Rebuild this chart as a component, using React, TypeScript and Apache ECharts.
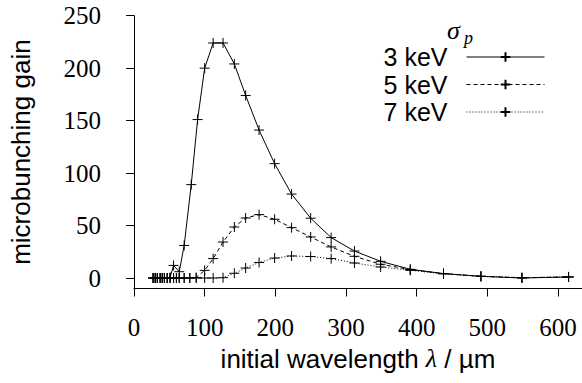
import React, { useEffect, useRef } from "react";
import * as echarts from "echarts";

// initial wavelength (µm) and microbunching gain for each energy spread
const wavelength3 = [27, 30, 33, 37, 40, 43, 47, 51, 56, 64, 71, 81, 90, 100, 112, 126, 142, 158, 177, 199, 223, 250, 279, 312, 349, 391, 438, 491, 549, 615];
const gain3 = [0, 0, 0, 0, 0, 0, 0, 0.5, 12, 6, 31, 89, 151, 200, 224, 224, 204, 174, 141, 109, 80, 57, 38.5, 25.7, 15.9, 8.3, 4.2, 1.6, 0, 1];

const wavelength5 = [27, 30, 33, 37, 40, 43, 47, 51, 56, 60, 64, 71, 79, 88, 100, 112, 126, 142, 158, 177, 199, 223, 250, 279, 312, 349, 391, 438, 491, 549, 615];
const gain5 = [0, 0, 0, 0, 0, 0, 0, 0, 0, 0, 0, 0, 0, 0.5, 7.3, 18.5, 34.3, 48.6, 57.2, 60.4, 56, 48, 39.1, 29.6, 20.7, 13.1, 8, 4.2, 1.6, 0.3, 1];

const wavelength7 = [27, 30, 33, 37, 40, 43, 47, 51, 56, 60, 64, 71, 79, 88, 100, 112, 126, 142, 158, 177, 199, 223, 250, 279, 312, 349, 391, 438, 491, 549, 615];
const gain7 = [0, 0, 0, 0, 0, 0, 0, 0, 0, 0, 0, 0, 0, 0, 0, 0, 0.3, 4.5, 9.5, 14.8, 19, 21, 20.5, 18.5, 14.3, 10.5, 7.3, 4, 1.6, 0.3, 1];

const seriesNames = ["3 keV", "5 keV", "7 keV"];
const xTicks = [0, 100, 200, 300, 400, 500, 600];
const yTicks = [0, 50, 100, 150, 200, 250];

const PLUS = "path://M0,5L10,5M5,0L5,10";
const SERIF = "Liberation Serif";
const SANS = "Liberation Sans";

export default function App() {
  const ref = useRef<HTMLDivElement>(null);
  useEffect(() => {
    if (!ref.current) return;
    const chart = echarts.init(ref.current, null, { renderer: "svg" });
    const mk = (name: string, xs: number[], ys: number[], dash: any) => ({
      name,
      type: "line",
      data: xs.map((x, i) => [x, ys[i]]),
      symbol: PLUS,
      symbolSize: 10,
      showSymbol: true,
      silent: true,
      emphasis: { disabled: true },
      lineStyle: { color: "#000", width: 1, type: dash },
      itemStyle: { color: "#000", borderColor: "#000", borderWidth: 1 },
    });
    const option: any = {
      animation: false,
      backgroundColor: "#fff",
      textStyle: { fontFamily: SERIF, color: "#000" },
      grid: { left: 130.5, right: 0, top: 15.7, bottom: 94.5, containLabel: false },
      legend: {
        data: seriesNames,
        orient: "vertical",
        align: "right",
        right: 37,
        top: 43.5,
        padding: 0,
        itemGap: 0.5,
        itemWidth: 78,
        itemHeight: 12,
        selectedMode: false,
        lineStyle: { width: 1 },
        textStyle: {
          fontFamily: SANS,
          fontSize: 25,
          color: "#000",
          lineHeight: 27,
          padding: [0, 14, 0, 0],
        },
      },
      xAxis: {
        type: "value",
        min: 0,
        max: 634,
        axisLine: { show: true, onZero: false, lineStyle: { color: "#000", width: 1 } },
        axisTick: { show: true, length: 8, customValues: xTicks, lineStyle: { color: "#000", width: 1 } },
        axisLabel: {
          customValues: xTicks,
          fontFamily: SERIF,
          fontSize: 25,
          color: "#000",
          margin: 26,
        },
        splitLine: { show: false },
        name: "{a|initial wavelength }{b|λ}{a| / µm}",
        nameLocation: "middle",
        nameGap: 57,
        nameTextStyle: {
          fontFamily: SANS,
          fontSize: 26,
          rich: {
            a: { fontFamily: SANS, fontSize: 26, color: "#000" },
            b: { fontFamily: SERIF, fontStyle: "italic", fontSize: 26, color: "#000" },
          },
        },
      },
      yAxis: {
        type: "value",
        min: -10,
        max: 250,
        axisLine: { show: true, onZero: false, lineStyle: { color: "#000", width: 1 } },
        axisTick: { show: true, length: 8, customValues: yTicks, lineStyle: { color: "#000", width: 1 } },
        axisLabel: {
          customValues: yTicks,
          fontFamily: SERIF,
          fontSize: 25,
          color: "#000",
          margin: 33,
        },
        splitLine: { show: false },
        name: "microbunching gain",
        nameLocation: "middle",
        nameGap: 100,
        nameTextStyle: { fontFamily: SANS, fontSize: 26, color: "#000" },
      },
      graphic: [
        {
          type: "text",
          x: 447,
          y: 30,
          style: {
            text: "σ",
            font: "italic 26px 'Liberation Serif'",
            fill: "#000",
            verticalAlign: "middle",
          },
        },
        {
          type: "text",
          x: 464,
          y: 38,
          style: {
            text: "p",
            font: "italic 18px 'Liberation Serif'",
            fill: "#000",
            verticalAlign: "middle",
          },
        },
      ],
      series: [
        mk(seriesNames[0], wavelength3, gain3, "solid"),
        mk(seriesNames[1], wavelength5, gain5, [4, 3]),
        mk(seriesNames[2], wavelength7, gain7, [1, 2]),
      ],
    };
    chart.setOption(option);
    return () => chart.dispose();
  }, []);
  return (
    <div
      ref={ref}
      style={{ position: "fixed", left: 0, top: 0, width: 582, height: 383, background: "#fff" }}
    />
  );
}
